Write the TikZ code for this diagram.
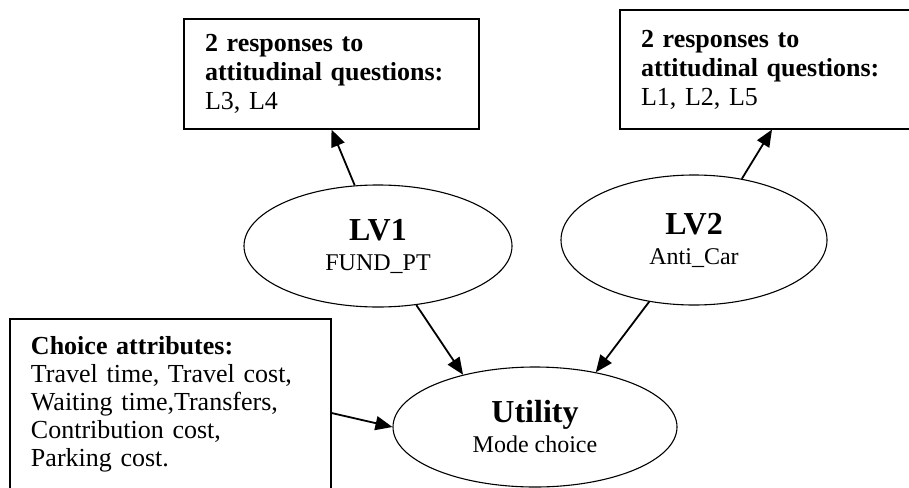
\documentclass[tikz,border=0pt]{standalone}
\usepackage{fontspec}
\setmainfont{Liberation Serif}
\usepackage{tikz}
\usetikzlibrary{
  arrows.meta,
  shapes.geometric,
}
\tikzset{
  >={Triangle[length=8.5pt,width=7pt]},
  every node/.append style={text=black},
  infobox/.style={
    draw,
    rectangle,
    line width=0.55pt,
    inner xsep=10.5pt,
    inner ysep=0pt,
    align=left,
    font=\fontsize{13}{14.5}\selectfont,
  },
  latent/.style={
    draw,
    ellipse,
    line width=0.55pt,
    inner sep=0pt,
    align=center,
    font=\fontsize{12}{15}\selectfont,
  },
  link/.style={->, line width=0.9pt},
}
\newcommand{\lvtitle}[2]{{\fontsize{16}{15}\selectfont\bfseries #1}\\#2}

\begin{document}
\begin{tikzpicture}[x=0.5pt,y=-0.5pt]
  \useasboundingbox (0,0) rectangle (909,487);
  \clip (0,0) rectangle (909,487);

  % --- indicator boxes ---
  \node[infobox, minimum width=147.5pt, minimum height=55pt, text width=126.5pt]
    (resp1) at (331.5,74) {\textbf{2 responses to}\\\textbf{attitudinal questions:}\\L3, L4};
  \node[infobox, minimum width=152pt, minimum height=59.5pt, text width=131pt]
    (resp2) at (772,69.5) {\textbf{2 responses to}\\\textbf{attitudinal questions:}\\L1, L2, L5};
  \node[infobox, minimum width=160.5pt, minimum height=85pt, text width=139.5pt,
        font=\fontsize{13}{14}\selectfont]
    (attr) at (170.5,404) {\textbf{Choice attributes:}\\Travel time, Travel cost,\\Waiting time,Transfers,\\Contribution cost,\\Parking cost.};

  % --- latent variables ---
  \node[latent, minimum width=134pt, minimum height=61pt] (lv1) at (378,246) {\lvtitle{LV1}{FUND\_PT}};
  \node[latent, minimum width=133pt, minimum height=65pt] (lv2) at (694,240) {\lvtitle{LV2}{Anti\_Car}};
  \node[latent, minimum width=142pt, minimum height=60pt] (util) at (535,427) {\lvtitle{Utility}{Mode choice}};

  % --- links ---
  \draw[link] (lv1.111) -- (resp1.south);
  \draw[link] (lv2.52) -- (resp2.south);
  \draw[link] (lv1.-57) -- (util.144);
  \draw[link] (lv2.234) -- (util.42);
  \draw[link] ([yshift=-4.5pt]attr.east) -- (util.west);
\end{tikzpicture}
\end{document}
